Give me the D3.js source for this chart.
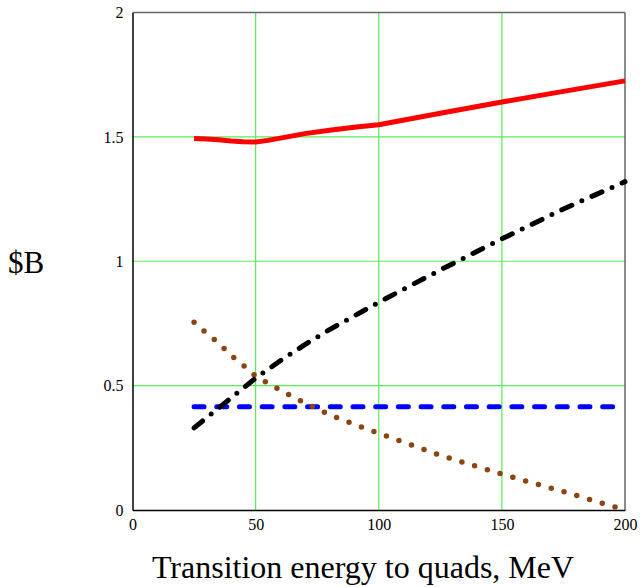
<!DOCTYPE html>
<html>
<head>
<meta charset="utf-8">
<script src="https://cdn.jsdelivr.net/npm/d3@7"></script>
<style>
	body{margin:0;background:#fff;}
	text{font-family:"Liberation Serif","Times New Roman",serif;fill:#000;}
</style>
</head>
<body>
<svg width="643" height="587"></svg>
<script>
(()=>{

//data
const energy = [25,30,35,40,45,50,55,60,70,80,90,100,125,150,175,200];
const redVals = [1.493,1.491,1.488,1.483,1.48,1.479,1.486,1.495,1.513,1.527,1.539,1.549,1.595,1.64,1.683,1.725];
const blackVals = [0.33,0.37,0.41,0.45,0.49,0.53,0.565,0.6,0.665,0.725,0.78,0.835,0.965,1.09,1.21,1.32];
const brownVals = [0.755,0.711,0.671,0.622,0.582,0.538,0.51,0.482,0.43,0.383,0.345,0.308,0.22,0.144,0.074,0.0];
const blueVals = [0.415,0.415,0.415,0.415,0.415,0.415,0.415,0.415,0.415,0.415,0.415,0.415,0.415,0.415,0.415,0.415];
const xTicks = [0,50,100,150,200];
const yTicks = [0,0.5,1,1.5,2];
const xTitle = "Transition energy to quads, MeV";
const yTitle = "$B";

let svg = d3.select("svg");
let margin = {left:132.5, right:18, top:12.5, bottom:77};
let W = 643, H = 587;

let x = d3.scaleLinear().domain([0,200]).range([margin.left, W-margin.right]);
let y = d3.scaleLinear().domain([0,2]).range([H-margin.bottom, margin.top]);

//grid
svg.append("g").selectAll("line")
	.data(xTicks.slice(1,-1))
	.enter().append("line")
	.attr("x1", d => x(d)).attr("x2", d => x(d))
	.attr("y1", y(0)).attr("y2", y(2))
	.attr("stroke", "#55ee55").attr("stroke-width", 1.2);
svg.append("g").selectAll("line")
	.data(yTicks.slice(1,-1))
	.enter().append("line")
	.attr("x1", x(0)).attr("x2", x(200))
	.attr("y1", d => y(d)).attr("y2", d => y(d))
	.attr("stroke", "#55ee55").attr("stroke-width", 1.2);

//frame: top and right grey, left and bottom black
svg.append("line").attr("x1", x(0)).attr("x2", x(200)).attr("y1", y(2)).attr("y2", y(2))
	.attr("stroke", "#666").attr("stroke-width", 1.5);
svg.append("line").attr("x1", x(200)).attr("x2", x(200)).attr("y1", y(0)).attr("y2", y(2))
	.attr("stroke", "#666").attr("stroke-width", 1.5);

//axes (no tick marks, labels only)
let xAxis = svg.append("g")
	.attr("transform", `translate(0,${y(0)})`)
	.call(d3.axisBottom(x).tickValues(xTicks).tickSize(0).tickPadding(9).tickFormat(d3.format("d")));
let yAxis = svg.append("g")
	.attr("transform", `translate(${x(0)},0)`)
	.call(d3.axisLeft(y).tickValues(yTicks).tickSize(0).tickPadding(9).tickFormat(d => String(d)));
[xAxis, yAxis].forEach(a => {
	a.attr("font-family", '"Liberation Serif", serif').attr("font-size", 16);
	a.select(".domain").attr("stroke", "#000").attr("stroke-width", 1.5);
	a.selectAll("text").attr("fill", "#000");
});

//series
let line = d3.line().x(d => x(d[0])).y(d => y(d[1]));
function series(vals, color, width, dash){
	svg.append("path")
		.datum(energy.map((e,i) => [e, vals[i]]))
		.attr("d", line)
		.attr("fill", "none")
		.attr("stroke", color)
		.attr("stroke-width", width)
		.attr("stroke-linecap", dash ? "round" : "butt")
		.attr("stroke-linejoin", "round")
		.attr("stroke-dasharray", dash);
}
series(redVals, "#ff0000", 5, null);
series(blueVals, "#0000ff", 5, "10,12.7");
series(brownVals, "#8b4513", 5.5, "0,13.3");
series(blackVals, "#000000", 5, "11,11,0,11");

//titles
svg.append("text")
	.attr("x", 363).attr("y", 578)
	.attr("text-anchor", "middle")
	.style("font-size", "32px")
	.text(xTitle);
svg.append("text")
	.attr("x", 8).attr("y", 273)
	.style("font-size", "31px")
	.text(yTitle);

})();
</script>
</body>
</html>
